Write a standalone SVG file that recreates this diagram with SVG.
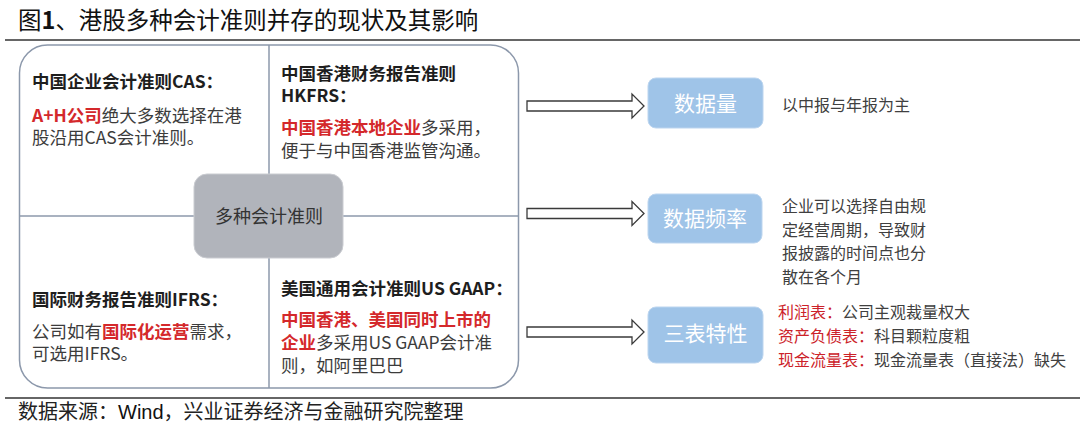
<svg xmlns="http://www.w3.org/2000/svg" width="1080" height="426" viewBox="0 0 1080 426">
<defs>
<style>
text{font-family:"Noto Sans CJK SC","Noto Sans CJK TC","Noto Sans",sans-serif;}
.title{font-size:23.5px;fill:#111;}
.hd{font-size:17.5px;font-weight:bold;fill:#1e1e1e;}
.bd{font-size:17.5px;fill:#3c3c3c;}
.red{fill:#d4282b;font-weight:bold;}
.frame{fill:none;stroke:#8c98ab;stroke-width:1.5;}
.grid{stroke:#8c98ab;stroke-width:1.5;}
.blue{fill:#9fc4e8;stroke:#bcd5ef;stroke-width:1;}
.blab{font-size:21px;fill:#ffffff;text-anchor:middle;}
.rt{font-size:16px;fill:#404040;}
.rl{fill:#cc2229;}
.arrow{fill:#ffffff;stroke:#3a3a3a;stroke-width:1.3;stroke-linejoin:miter;}
.rule{stroke:#333;stroke-width:1.5;}
.foot{font-size:20px;fill:#222;}
</style>
</defs>
<rect width="1080" height="426" fill="#ffffff"/>

<g id="title">
<text class="title" x="18" y="29">图<tspan font-weight="bold">1</tspan>、港股多种会计准则并存的现状及其影响</text>
<line class="rule" x1="5" y1="40" x2="1080" y2="40"/>
</g>

<g id="frame">
<rect class="frame" x="19.5" y="45" width="499" height="343" rx="28" ry="28"/>
<line class="grid" x1="269" y1="45" x2="269" y2="388"/>
<line class="grid" x1="19.5" y1="216" x2="518.5" y2="216"/>
</g>

<g id="center">
<rect x="194" y="174" width="149" height="84" rx="13" ry="13" fill="#b1b4bb" stroke="#caccd1" stroke-width="1"/>
<text x="269" y="222.5" font-size="18" fill="#333" text-anchor="middle">多种会计准则</text>
</g>

<g id="cas">
<text class="hd" x="32" y="87.5">中国企业会计准则CAS：</text>
<text class="bd" x="32" y="121.5"><tspan class="red">A+H公司</tspan>绝大多数选择在港</text>
<text class="bd" x="32" y="144">股沿用CAS会计准则。</text>
</g>

<g id="hkfrs">
<text class="hd" x="281" y="79.5">中国香港财务报告准则</text>
<text class="hd" x="281" y="102">HKFRS：</text>
<text class="bd" x="281" y="133.5"><tspan class="red">中国香港本地企业</tspan>多采用，</text>
<text class="bd" x="281" y="156.5">便于与中国香港监管沟通。</text>
</g>

<g id="ifrs">
<text class="hd" x="32" y="305.5">国际财务报告准则IFRS：</text>
<text class="bd" x="32" y="337.5">公司如有<tspan class="red">国际化运营</tspan>需求，</text>
<text class="bd" x="32" y="360">可选用IFRS。</text>
</g>

<g id="usgaap">
<text class="hd" x="281" y="294.5">美国通用会计准则US GAAP：</text>
<text class="bd red" x="281" y="325.5">中国香港、美国同时上市的</text>
<text class="bd" x="281" y="348.5"><tspan class="red">企业</tspan>多采用US GAAP会计准</text>
<text class="bd" x="281" y="371.5">则，如阿里巴巴</text>
</g>

<g id="connectors">
<path class="arrow" d="M527,101 H632 V94 L644,106 L632,118 V111 H527 Z"/>
<path class="arrow" d="M527,208.5 H632 V201.5 L644,213.5 L632,225.5 V218.5 H527 Z"/>
<path class="arrow" d="M527,327 H632 V320 L644,332 L632,344 V337 H527 Z"/>
</g>

<g id="node-shujuliang">
<rect class="blue" x="648" y="78" width="115" height="50" rx="8" ry="8"/>
<text class="blab" x="705.5" y="110.5">数据量</text>
</g>
<g id="desc-shujuliang">
<text class="rt" x="782" y="110.5">以中报与年报为主</text>
</g>

<g id="node-pinlv">
<rect class="blue" x="648" y="194" width="114" height="49" rx="8" ry="8"/>
<text class="blab" x="705" y="225.5">数据频率</text>
</g>
<g id="desc-pinlv">
<text class="rt" x="782" y="211.5">企业可以选择自由规</text>
<text class="rt" x="782" y="235.5">定经营周期，导致财</text>
<text class="rt" x="782" y="258.5">报披露的时间点也分</text>
<text class="rt" x="782" y="282.5">散在各个月</text>
</g>

<g id="node-sanbiao">
<rect class="blue" x="648" y="307" width="115" height="56" rx="8" ry="8"/>
<text class="blab" x="705.5" y="340.5">三表特性</text>
</g>
<g id="desc-sanbiao">
<text class="rt" x="778" y="317.5"><tspan class="rl">利润表：</tspan>公司主观裁量权大</text>
<text class="rt" x="778" y="341.5"><tspan class="rl">资产负债表：</tspan>科目颗粒度粗</text>
<text class="rt" x="778" y="365.5"><tspan class="rl">现金流量表：</tspan>现金流量表（直接法）缺失</text>
</g>

<g id="footer">
<line class="rule" x1="5" y1="398" x2="1080" y2="398"/>
<text class="foot" x="18" y="418.5">数据来源：<tspan font-family="Liberation Sans, sans-serif" fill="#111">Wind</tspan>，兴业证券经济与金融研究院整理</text>
</g>
</svg>
